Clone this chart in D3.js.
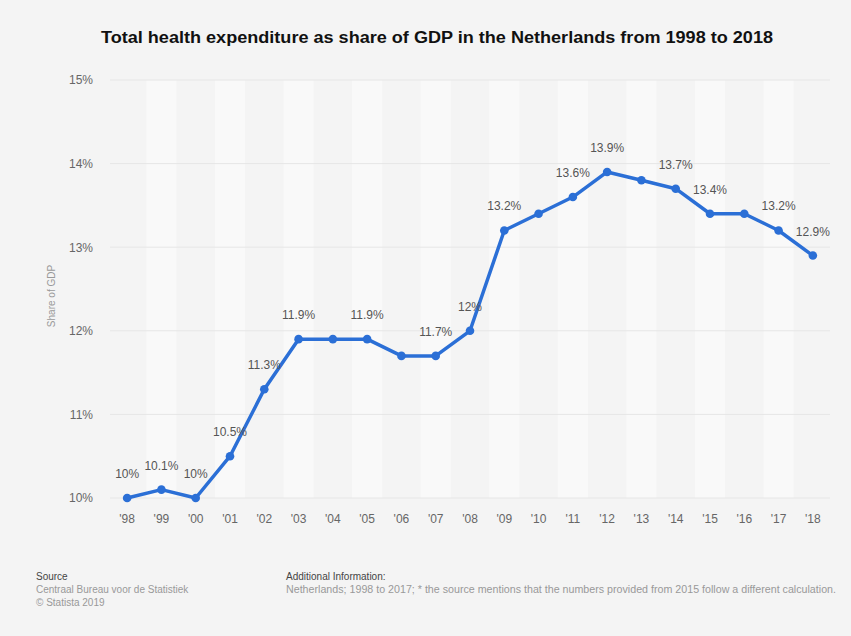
<!DOCTYPE html>
<html>
<head>
<meta charset="utf-8">
<script src="https://cdn.jsdelivr.net/npm/d3@7"></script>
<style>
  html, body { margin: 0; padding: 0; background: #f4f4f4; }
  svg { display: block; font-family: "Liberation Sans", Arial, sans-serif; }
</style>
</head>
<body>
<div id="chart"></div>
<script>
// Total health expenditure as share of GDP, Netherlands 1998-2018
const years = ["'98","'99","'00","'01","'02","'03","'04","'05","'06","'07","'08",
               "'09","'10","'11","'12","'13","'14","'15","'16","'17","'18"];
const shares = [10, 10.1, 10, 10.5, 11.3, 11.9, 11.9, 11.9, 11.7, 11.7, 12,
                13.2, 13.4, 13.6, 13.9, 13.8, 13.7, 13.4, 13.4, 13.2, 12.9];
// which points carry a value label in the original
const labelled = ["'98","'99","'00","'01","'02","'03","'05","'07","'08",
                  "'09","'11","'12","'14","'15","'17","'18"];
const yTicks = [10, 11, 12, 13, 14, 15];

const W = 851, H = 636;
const M = {t: 80, r: 21, b: 138, l: 110};

const svg = d3.select('#chart').append('svg').attr('width', W).attr('height', H);
svg.append('rect').attr('width', W).attr('height', H).attr('fill', '#f4f4f4');

const x = d3.scaleBand().domain(years).range([M.l, W - M.r]);
const y = d3.scaleLinear().domain([10, 15]).range([H - M.b, M.t]);

// alternating column stripes
svg.append('g')
  .selectAll('rect')
  .data(years.filter((d, i) => i % 2 === 1))
  .enter().append('rect')
  .attr('x', d => x(d) + 2)
  .attr('width', x.bandwidth() - 4)
  .attr('y', M.t)
  .attr('height', y(10) - M.t)
  .attr('fill', '#f9f9f9');

// gridlines
svg.append('g')
  .selectAll('line')
  .data(yTicks)
  .enter().append('line')
  .attr('x1', M.l).attr('x2', W - M.r)
  .attr('y1', d => y(d)).attr('y2', d => y(d))
  .attr('stroke', '#e6e6e6')
  .attr('stroke-width', 1);

// y axis
const yAxis = svg.append('g')
  .attr('transform', `translate(${M.l}, 0)`)
  .call(d3.axisLeft(y).tickValues(yTicks).tickFormat(d => d + '%').tickSize(0).tickPadding(17));
yAxis.select('.domain').remove();
yAxis.selectAll('text').attr('font-size', '12px').attr('fill', '#666')
  .style('font-family', '"Liberation Sans", Arial, sans-serif');

// x axis
const xAxis = svg.append('g')
  .attr('transform', `translate(0, ${y(10)})`)
  .call(d3.axisBottom(x).tickSize(0).tickPadding(16));
xAxis.select('.domain').remove();
xAxis.selectAll('text').attr('font-size', '12px').attr('fill', '#666')
  .style('font-family', '"Liberation Sans", Arial, sans-serif');

// y axis title
svg.append('text')
  .attr('transform', `translate(55, ${(y(10) + y(15)) / 2 + 7}) rotate(-90)`)
  .attr('text-anchor', 'middle')
  .attr('font-size', '10px')
  .attr('fill', '#999')
  .text('Share of GDP');

const data = years.map((yr, i) => ({yr, v: shares[i]}));
const cx = d => x(d.yr) + x.bandwidth() / 2;

// line
svg.append('path')
  .datum(data)
  .attr('fill', 'none')
  .attr('stroke', '#2b6fd6')
  .attr('stroke-width', 3.5)
  .attr('stroke-linejoin', 'round')
  .attr('d', d3.line().x(cx).y(d => y(d.v)));

svg.append('g')
  .selectAll('circle')
  .data(data)
  .enter().append('circle')
  .attr('cx', cx)
  .attr('cy', d => y(d.v))
  .attr('r', 4.3)
  .attr('fill', '#2b6fd6');

// value labels
svg.append('g')
  .selectAll('text')
  .data(data.filter(d => labelled.includes(d.yr)))
  .enter().append('text')
  .attr('x', cx)
  .attr('y', d => y(d.v) - 20)
  .attr('text-anchor', 'middle')
  .attr('font-size', '12px')
  .attr('fill', '#555')
  .text(d => d.v + '%');

// title
svg.append('text')
  .attr('x', 437)
  .attr('y', 43)
  .attr('text-anchor', 'middle')
  .attr('font-size', '16px')
  .attr('font-weight', 700)
  .attr('fill', '#111')
  .attr('textLength', 672)
  .attr('lengthAdjust', 'spacingAndGlyphs')
  .text('Total health expenditure as share of GDP in the Netherlands from 1998 to 2018');

// footer
const foot = svg.append('g').attr('font-size', '10px');
foot.append('text').attr('x', 36).attr('y', 580).attr('fill', '#444').text('Source');
foot.append('text').attr('x', 36).attr('y', 593).attr('fill', '#999').text('Centraal Bureau voor de Statistiek');
foot.append('text').attr('x', 36).attr('y', 606).attr('fill', '#999').text('© Statista 2019');
foot.append('text').attr('x', 286).attr('y', 580).attr('fill', '#444').text('Additional Information:');
foot.append('text').attr('x', 286).attr('y', 593).attr('fill', '#999')
  .attr('textLength', 550).attr('lengthAdjust', 'spacingAndGlyphs')
  .text('Netherlands; 1998 to 2017; * the source mentions that the numbers provided from 2015 follow a different calculation.');
</script>
</body>
</html>
